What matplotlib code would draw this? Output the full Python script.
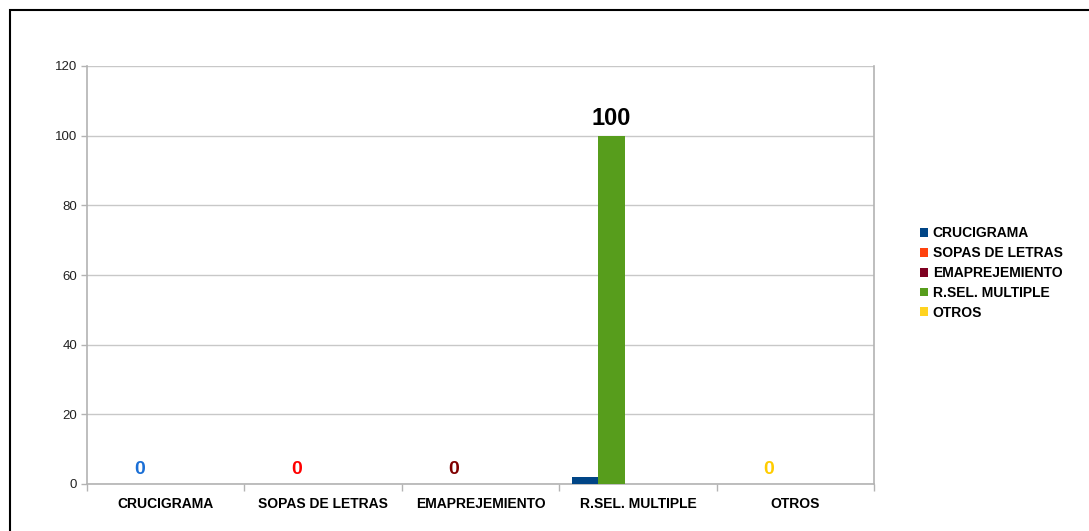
import matplotlib
matplotlib.use("Agg")
import matplotlib.pyplot as plt
from matplotlib.patches import Rectangle, Patch
import numpy as np

plt.rcParams['font.family'] = ['Liberation Sans', 'DejaVu Sans']

categories = ["CRUCIGRAMA", "SOPAS DE LETRAS", "EMAPREJEMIENTO", "R.SEL. MULTIPLE", "OTROS"]
series_names = ["CRUCIGRAMA", "SOPAS DE LETRAS", "EMAPREJEMIENTO", "R.SEL. MULTIPLE", "OTROS"]
series_colors = ["#004586", "#ff420e", "#7e0021", "#579d1c", "#ffd320"]

# slot 0 series (blue) and slot 1 series (per-point colours, labelled)
slot0_values = [0, 0, 0, 2, 0]
slot1_values = [0, 0, 0, 100, 0]
slot1_point_colors = ["#004586", "#ff420e", "#7e0021", "#579d1c", "#ffd320"]
label_colors = ["#1a6fd6", "#ff0000", "#800000", "#000000", "#ffcc00"]
empty_values = [0, 0, 0, 0, 0]

yticks = [0, 20, 40, 60, 80, 100, 120]

W, H = 1089, 531
fig = plt.figure(figsize=(W / 100, H / 100), dpi=100)
fig.patch.set_facecolor("white")
ax = fig.add_axes([87 / W, (H - 484) / H, (874 - 87) / W, (484 - 66) / H])

x = np.arange(len(categories))
bw = 0.168
n = 5
offsets = [(i - (n - 1) / 2) * bw for i in range(n)]

ax.bar(x + offsets[0], slot0_values, bw, color=series_colors[0], zorder=3)
bars1 = ax.bar(x + offsets[1], slot1_values, bw, color=slot1_point_colors, zorder=3)
for i in range(2, n):
    ax.bar(x + offsets[i], empty_values, bw, color=series_colors[i], zorder=3)

for b, v, c in zip(bars1, slot1_values, label_colors):
    ax.text(b.get_x() + b.get_width() / 2, v + 1.6, f"{v}", ha="center", va="bottom",
            fontsize=17 if v >= 100 else 14, fontweight="bold", color=c, zorder=4)

ax.set_xlim(-0.5, len(categories) - 0.5)
ax.set_ylim(0, 120)
ax.set_yticks(yticks)
ax.set_yticklabels([str(t) for t in yticks], fontsize=9.5, color="#222222")
ax.yaxis.grid(True, color="#c8c8c8", linewidth=1, zorder=0)
ax.set_axisbelow(True)

ax.set_xticks(x)
ax.set_xticklabels(categories, fontsize=10, fontweight="bold")
ax.tick_params(axis="x", length=0, pad=9)
ax.set_xticks(np.arange(-0.5, len(categories) + 0.5, 1), minor=True)
ax.tick_params(axis="x", which="minor", length=5, color="#b3b3b3", width=1)
ax.tick_params(axis="y", length=4, color="#b3b3b3", width=1, pad=3)

for s in ["left", "right", "bottom"]:
    ax.spines[s].set_color("#b3b3b3")
    ax.spines[s].set_linewidth(1.2)
ax.spines["top"].set_visible(False)

# legend
handles = [Patch(facecolor=c, edgecolor="none") for c in series_colors]
leg = fig.legend(handles, series_names, loc="center left",
                 bbox_to_anchor=(914 / W, 1 - 273 / H), frameon=False,
                 prop={"size": 10, "weight": "bold"}, handlelength=0.6,
                 handleheight=0.6, handletextpad=0.35, labelspacing=0.42,
                 borderaxespad=0)

# outer frame
fig.add_artist(Rectangle((9.5 / W, -0.1), 1.2, 1 - 9.5 / H + 0.1, transform=fig.transFigure,
                         fill=False, edgecolor="black", linewidth=1.5))

fig.savefig("out.png", dpi=100, facecolor="white")
